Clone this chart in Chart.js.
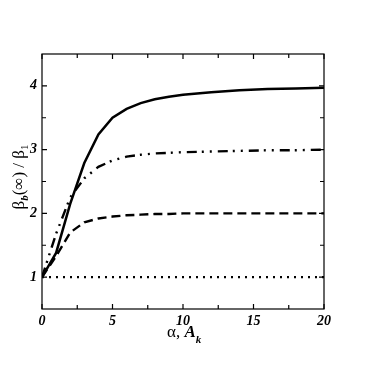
<!DOCTYPE html>
<html>
<head>
<meta charset="utf-8">
<script src="https://cdn.jsdelivr.net/npm/chart.js@4.4.1/dist/chart.umd.min.js"></script>
<style>
  html, body { margin: 0; padding: 0; background: #fff; }
  #wrap { width: 365px; height: 365px; }
</style>
</head>
<body>
<div id="wrap"><canvas id="chart" width="365" height="365"></canvas></div>
<script>
// values
const xVals = [0, 1, 2, 3, 4, 5, 6, 7, 8, 9, 10, 12, 14, 16, 18, 20];
const solidVals = [1, 1.38, 2.15, 2.79, 3.24, 3.5, 3.64, 3.73, 3.79, 3.83, 3.86, 3.9, 3.93, 3.95, 3.96, 3.97];
const dashDotVals = [1, 1.68, 2.25, 2.55, 2.73, 2.83, 2.89, 2.92, 2.94, 2.95, 2.96, 2.97, 2.98, 2.99, 2.99, 3.0];
const dashedVals = [1, 1.33, 1.7, 1.86, 1.92, 1.95, 1.97, 1.98, 1.99, 1.99, 2.0, 2.0, 2.0, 2.0, 2.0, 2.0];
const dottedVals = [1, 1, 1, 1, 1, 1, 1, 1, 1, 1, 1, 1, 1, 1, 1, 1];

const xTicks = [0, 5, 10, 15, 20];
const xMinorTicks = [2.5, 7.5, 12.5, 17.5];
const yTicks = [1, 2, 3, 4];
const yMinorTicks = [1.5, 2.5, 3.5];

const pts = (ys) => xVals.map((x, i) => ({ x: x, y: ys[i] }));
const serif = '"Liberation Serif", "DejaVu Serif", serif';

const frame = {
  id: 'frame',
  afterDraw(chart) {
    const { ctx, chartArea: a, scales } = chart;
    const xs = scales.x, ys = scales.y;
    ctx.save();
    ctx.strokeStyle = '#000';
    ctx.lineWidth = 1.2;
    ctx.strokeRect(a.left, a.top, a.right - a.left, a.bottom - a.top);
    ctx.beginPath();
    const tick = (len) => (v) => {
      const px = xs.getPixelForValue(v);
      ctx.moveTo(px, a.bottom); ctx.lineTo(px, a.bottom - len);
      ctx.moveTo(px, a.top); ctx.lineTo(px, a.top + len);
    };
    const tickY = (len) => (v) => {
      const py = ys.getPixelForValue(v);
      ctx.moveTo(a.left, py); ctx.lineTo(a.left + len, py);
      ctx.moveTo(a.right, py); ctx.lineTo(a.right - len, py);
    };
    xTicks.forEach(tick(5)); xMinorTicks.forEach(tick(4));
    yTicks.forEach(tickY(5)); yMinorTicks.forEach(tickY(4));
    ctx.stroke();

    // x title: α, A_k
    ctx.fillStyle = '#000';
    ctx.textBaseline = 'alphabetic';
    let x = 167, y = 337;
    ctx.font = '17px ' + serif;
    ctx.fillText('α,', x, y); x += ctx.measureText('α, ').width;
    ctx.font = 'italic bold 17px ' + serif;
    ctx.fillText('A', x, y); x += ctx.measureText('A').width;
    ctx.font = 'italic bold 11px ' + serif;
    ctx.fillText('k', x, y + 6);

    // y title: β_b(∞) / β_1
    ctx.translate(24, 177);
    ctx.rotate(-Math.PI / 2);
    const parts = [
      ['β', '17px ' + serif, 0],
      ['b', 'italic bold 11px ' + serif, 4],
      ['(∞) / β', '17px ' + serif, 0],
      ['1', '11px ' + serif, 4]
    ];
    let total = 0;
    parts.forEach(([t, f]) => { ctx.font = f; total += ctx.measureText(t).width; });
    let cx = -total / 2;
    parts.forEach(([t, f, dy]) => {
      ctx.font = f;
      ctx.fillText(t, cx, dy);
      cx += ctx.measureText(t).width;
    });
    ctx.restore();
  }
};

const line = (data, dash, width) => ({
  data: pts(data),
  borderColor: '#000',
  borderWidth: width,
  borderDash: dash,
  pointRadius: 0,
  tension: 0,
  fill: false
});

new Chart(document.getElementById('chart'), {
  type: 'line',
  data: {
    datasets: [
      line(solidVals, [], 2.5),
      line(dashDotVals, [10, 5, 2, 6, 2, 6], 2.4),
      line(dashedVals, [9, 5], 2.4),
      line(dottedVals, [2, 5], 2.2)
    ]
  },
  options: {
    responsive: false,
    animation: false,
    layout: { padding: { left: 0, top: 54, right: 41, bottom: 0 } },
    plugins: { legend: { display: false }, tooltip: { enabled: false } },
    scales: {
      x: {
        type: 'linear',
        min: 0,
        max: 20,
        afterFit: (s) => { s.height = 56; },
        afterBuildTicks: (s) => { s.ticks = xTicks.map((v) => ({ value: v })); },
        grid: { display: false },
        border: { display: false },
        ticks: {
          padding: -4,
          color: '#000',
          maxRotation: 0,
          font: { family: serif, size: 14, style: 'italic', weight: 'bold' }
        }
      },
      y: {
        min: 0.5,
        max: 4.5,
        afterFit: (s) => { s.width = 42; },
        afterBuildTicks: (s) => { s.ticks = yTicks.map((v) => ({ value: v })); },
        grid: { display: false },
        border: { display: false },
        ticks: {
          padding: -3,
          color: '#000',
          font: { family: serif, size: 14, style: 'italic', weight: 'bold' }
        }
      }
    }
  },
  plugins: [frame]
});
</script>
</body>
</html>
